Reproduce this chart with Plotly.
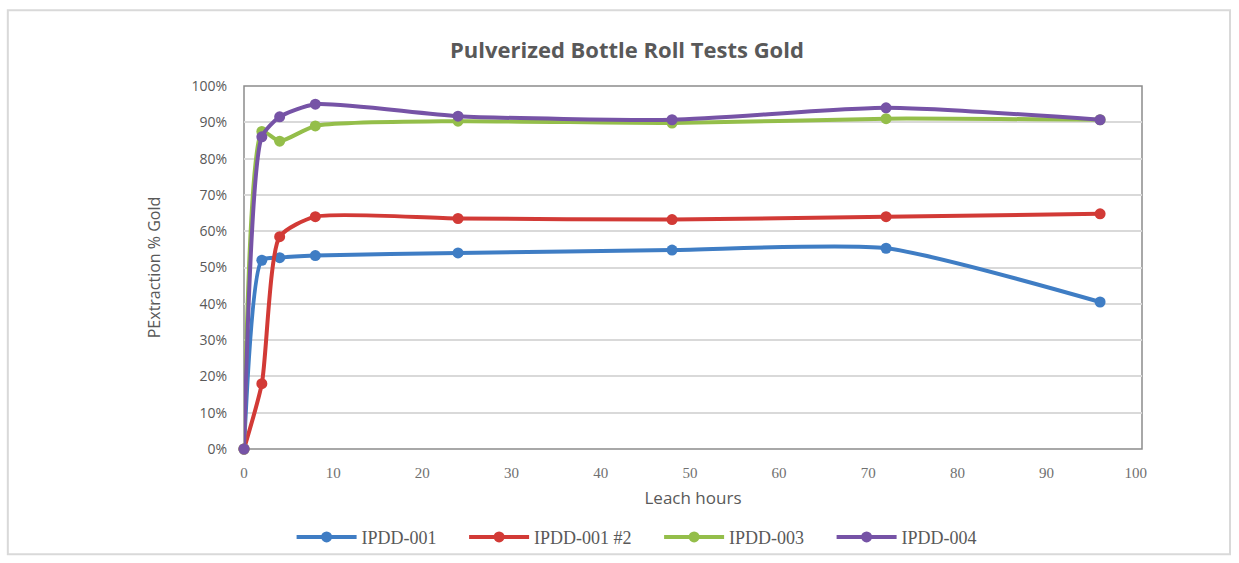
import plotly.graph_objects as go

# Leach time (hours) and gold extraction (%) per sample
hours = [0, 2, 4, 8, 24, 48, 72, 96]
ipdd_001 = [0, 52.0, 52.7, 53.3, 54.0, 54.8, 55.3, 40.5]
ipdd_001_2 = [0, 18.0, 58.5, 64.0, 63.5, 63.2, 64.0, 64.8]
ipdd_003 = [0, 87.5, 84.8, 89.0, 90.3, 89.8, 91.0, 90.7]
ipdd_004 = [0, 86.0, 91.5, 95.0, 91.7, 90.7, 94.0, 90.7]

series = [
    ("IPDD-001", ipdd_001, "#3F7DC4"),
    ("IPDD-001 #2", ipdd_001_2, "#D23A36"),
    ("IPDD-003", ipdd_003, "#94BE4A"),
    ("IPDD-004", ipdd_004, "#7653A6"),
]

x_ticks = list(range(0, 101, 10))
y_ticks = list(range(0, 101, 10))
y_tick_text = [f"{v}%" for v in y_ticks]

fig = go.Figure()
for name, vals, color in series:
    fig.add_trace(go.Scatter(
        x=hours, y=vals, name=name + "     ", mode="lines+markers",
        line=dict(color=color, width=4, shape="spline", smoothing=0.6),
        marker=dict(color=color, size=11, symbol="circle"),
        cliponaxis=False,
    ))

fig.update_layout(
    width=1239, height=563,
    margin=dict(l=244, r=97, t=86, b=114, autoexpand=False),
    paper_bgcolor="white", plot_bgcolor="white",
    title=dict(
        text="<b>Pulverized Bottle Roll Tests Gold</b>",
        x=0.506, xanchor="center", y=0.911, yanchor="middle",
        font=dict(family="Open Sans", size=22, color="#595959"),
    ),
    xaxis=dict(
        range=[0, 100.7], tickvals=x_ticks, ticktext=[str(v) for v in x_ticks],
        showgrid=False, zeroline=False, showline=False, ticks="",
        ticklabelstandoff=13, automargin=False,
        tickfont=dict(family="Liberation Serif", size=15, color="#707070"),
        title=dict(text="Leach hours", standoff=12,
                   font=dict(family="Open Sans", size=17, color="#595959")),
    ),
    yaxis=dict(
        range=[0, 100], tickvals=y_ticks, ticktext=y_tick_text,
        showgrid=True, gridcolor="#D9D9D9", gridwidth=1.5,
        zeroline=False, showline=False, ticks="",
        ticklabelstandoff=16, automargin=False,
        tickfont=dict(family="Open Sans", size=14, color="#595959"),
        title=dict(text="PExtraction % Gold", standoff=26,
                   font=dict(family="Open Sans", size=16, color="#595959")),
    ),
    legend=dict(
        orientation="h", x=0.45, xanchor="center", y=-0.243, yanchor="middle",
        font=dict(family="Liberation Serif", size=18, color="#595959"),
        itemwidth=60, tracegroupgap=0, bgcolor="rgba(0,0,0,0)",
    ),
    showlegend=True,
)

# Plot-area frame
fig.add_shape(type="rect", xref="paper", yref="paper", x0=0, y0=0, x1=1, y1=1,
              line=dict(color="#8C8C8C", width=1.5), layer="below")
# Outer chart frame
fig.add_shape(type="rect", xref="paper", yref="paper",
              x0=-0.263, y0=-0.29, x1=1.098, y1=1.209,
              line=dict(color="#D9D9D9", width=2), layer="below")

fig.write_html("out.html")
